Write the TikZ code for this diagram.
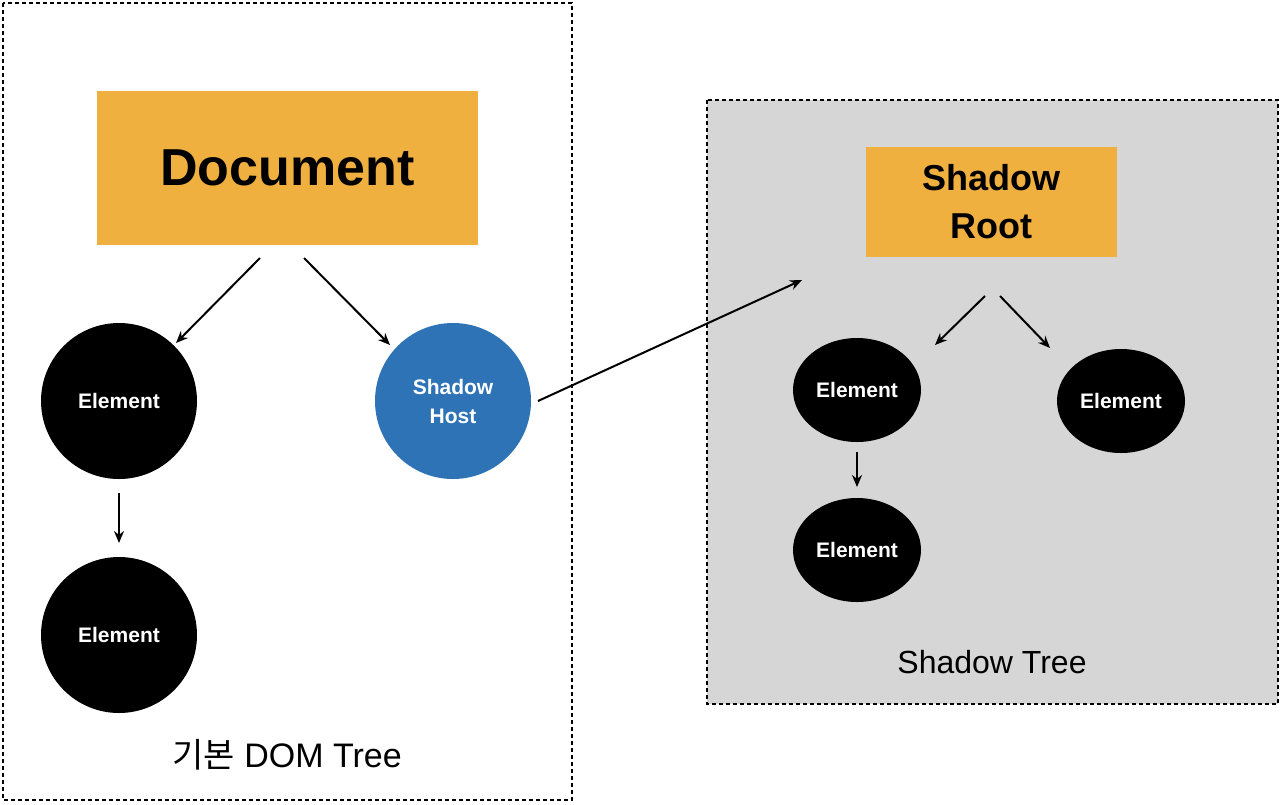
\documentclass[tikz,border=0pt]{standalone}
\usepackage{fontspec}
\setmainfont{Liberation Sans}
\newfontfamily\kr{Noto Sans CJK KR}
\usetikzlibrary{arrows.meta,shapes.geometric}
\definecolor{org}{HTML}{F0B03F}
\definecolor{hostb}{HTML}{2E73B5}
\definecolor{gbg}{HTML}{D6D6D6}
\begin{document}
\begin{tikzpicture}[x=1pt,y=-1pt,
 box/.style={draw=black,line width=2pt,dash pattern=on 4pt off 3pt},
 el/.style={fill=black,text=white,font=\fontsize{21}{24}\selectfont\bfseries,inner sep=0pt},
 arr/.style={-{Stealth[length=12pt,width=10pt]},line width=2pt}]
\useasboundingbox (0,0) rectangle (1280,804);
\draw[box,fill=white] (3,3) rectangle (572,800);
\draw[box,fill=gbg] (707,100) rectangle (1278,704);
\node[fill=org,minimum width=381pt,minimum height=154pt,font=\fontsize{52}{60}\selectfont\bfseries] (doc) at (287.5,168) {Document};
\node[el,circle,minimum size=156pt] (e1) at (119,401) {Element};
\node[el,circle,minimum size=156pt] (e2) at (119,635) {Element};
\node[circle,fill=hostb,text=white,minimum size=156pt,align=center,font=\fontsize{21}{29}\selectfont\bfseries] (host) at (453,401) {Shadow\\Host};
\node[font=\fontsize{34}{40}\selectfont] (lbl1) at (287,755) {{\kr 기본} DOM Tree};
\node[fill=org,minimum width=251pt,minimum height=110pt,align=center,font=\fontsize{36}{48}\selectfont\bfseries] (root) at (991.5,202) {Shadow\\Root};
\node[el,ellipse,minimum width=128pt,minimum height=104pt] (s1) at (857,390) {Element};
\node[el,ellipse,minimum width=128pt,minimum height=104pt] (s2) at (1121,401) {Element};
\node[el,ellipse,minimum width=128pt,minimum height=104pt] (s3) at (857,550) {Element};
\node[font=\fontsize{32}{38}\selectfont] (lbl2) at (992,662) {Shadow Tree};
\coordinate (a1s) at (260,258); \coordinate (a1e) at (176,343);
\coordinate (a2s) at (304,258); \coordinate (a2e) at (390,345);
\coordinate (a3s) at (119,493); \coordinate (a3e) at (119,543);
\coordinate (a4s) at (538,401); \coordinate (a4e) at (802,280);
\coordinate (a5s) at (985,296); \coordinate (a5e) at (935,345);
\coordinate (a6s) at (1000,296); \coordinate (a6e) at (1050,348);
\coordinate (a7s) at (857,452); \coordinate (a7e) at (857,487);
\foreach \a in {1,...,7}{\draw[arr] (a\a s) -- (a\a e);}
\end{tikzpicture}
\end{document}
